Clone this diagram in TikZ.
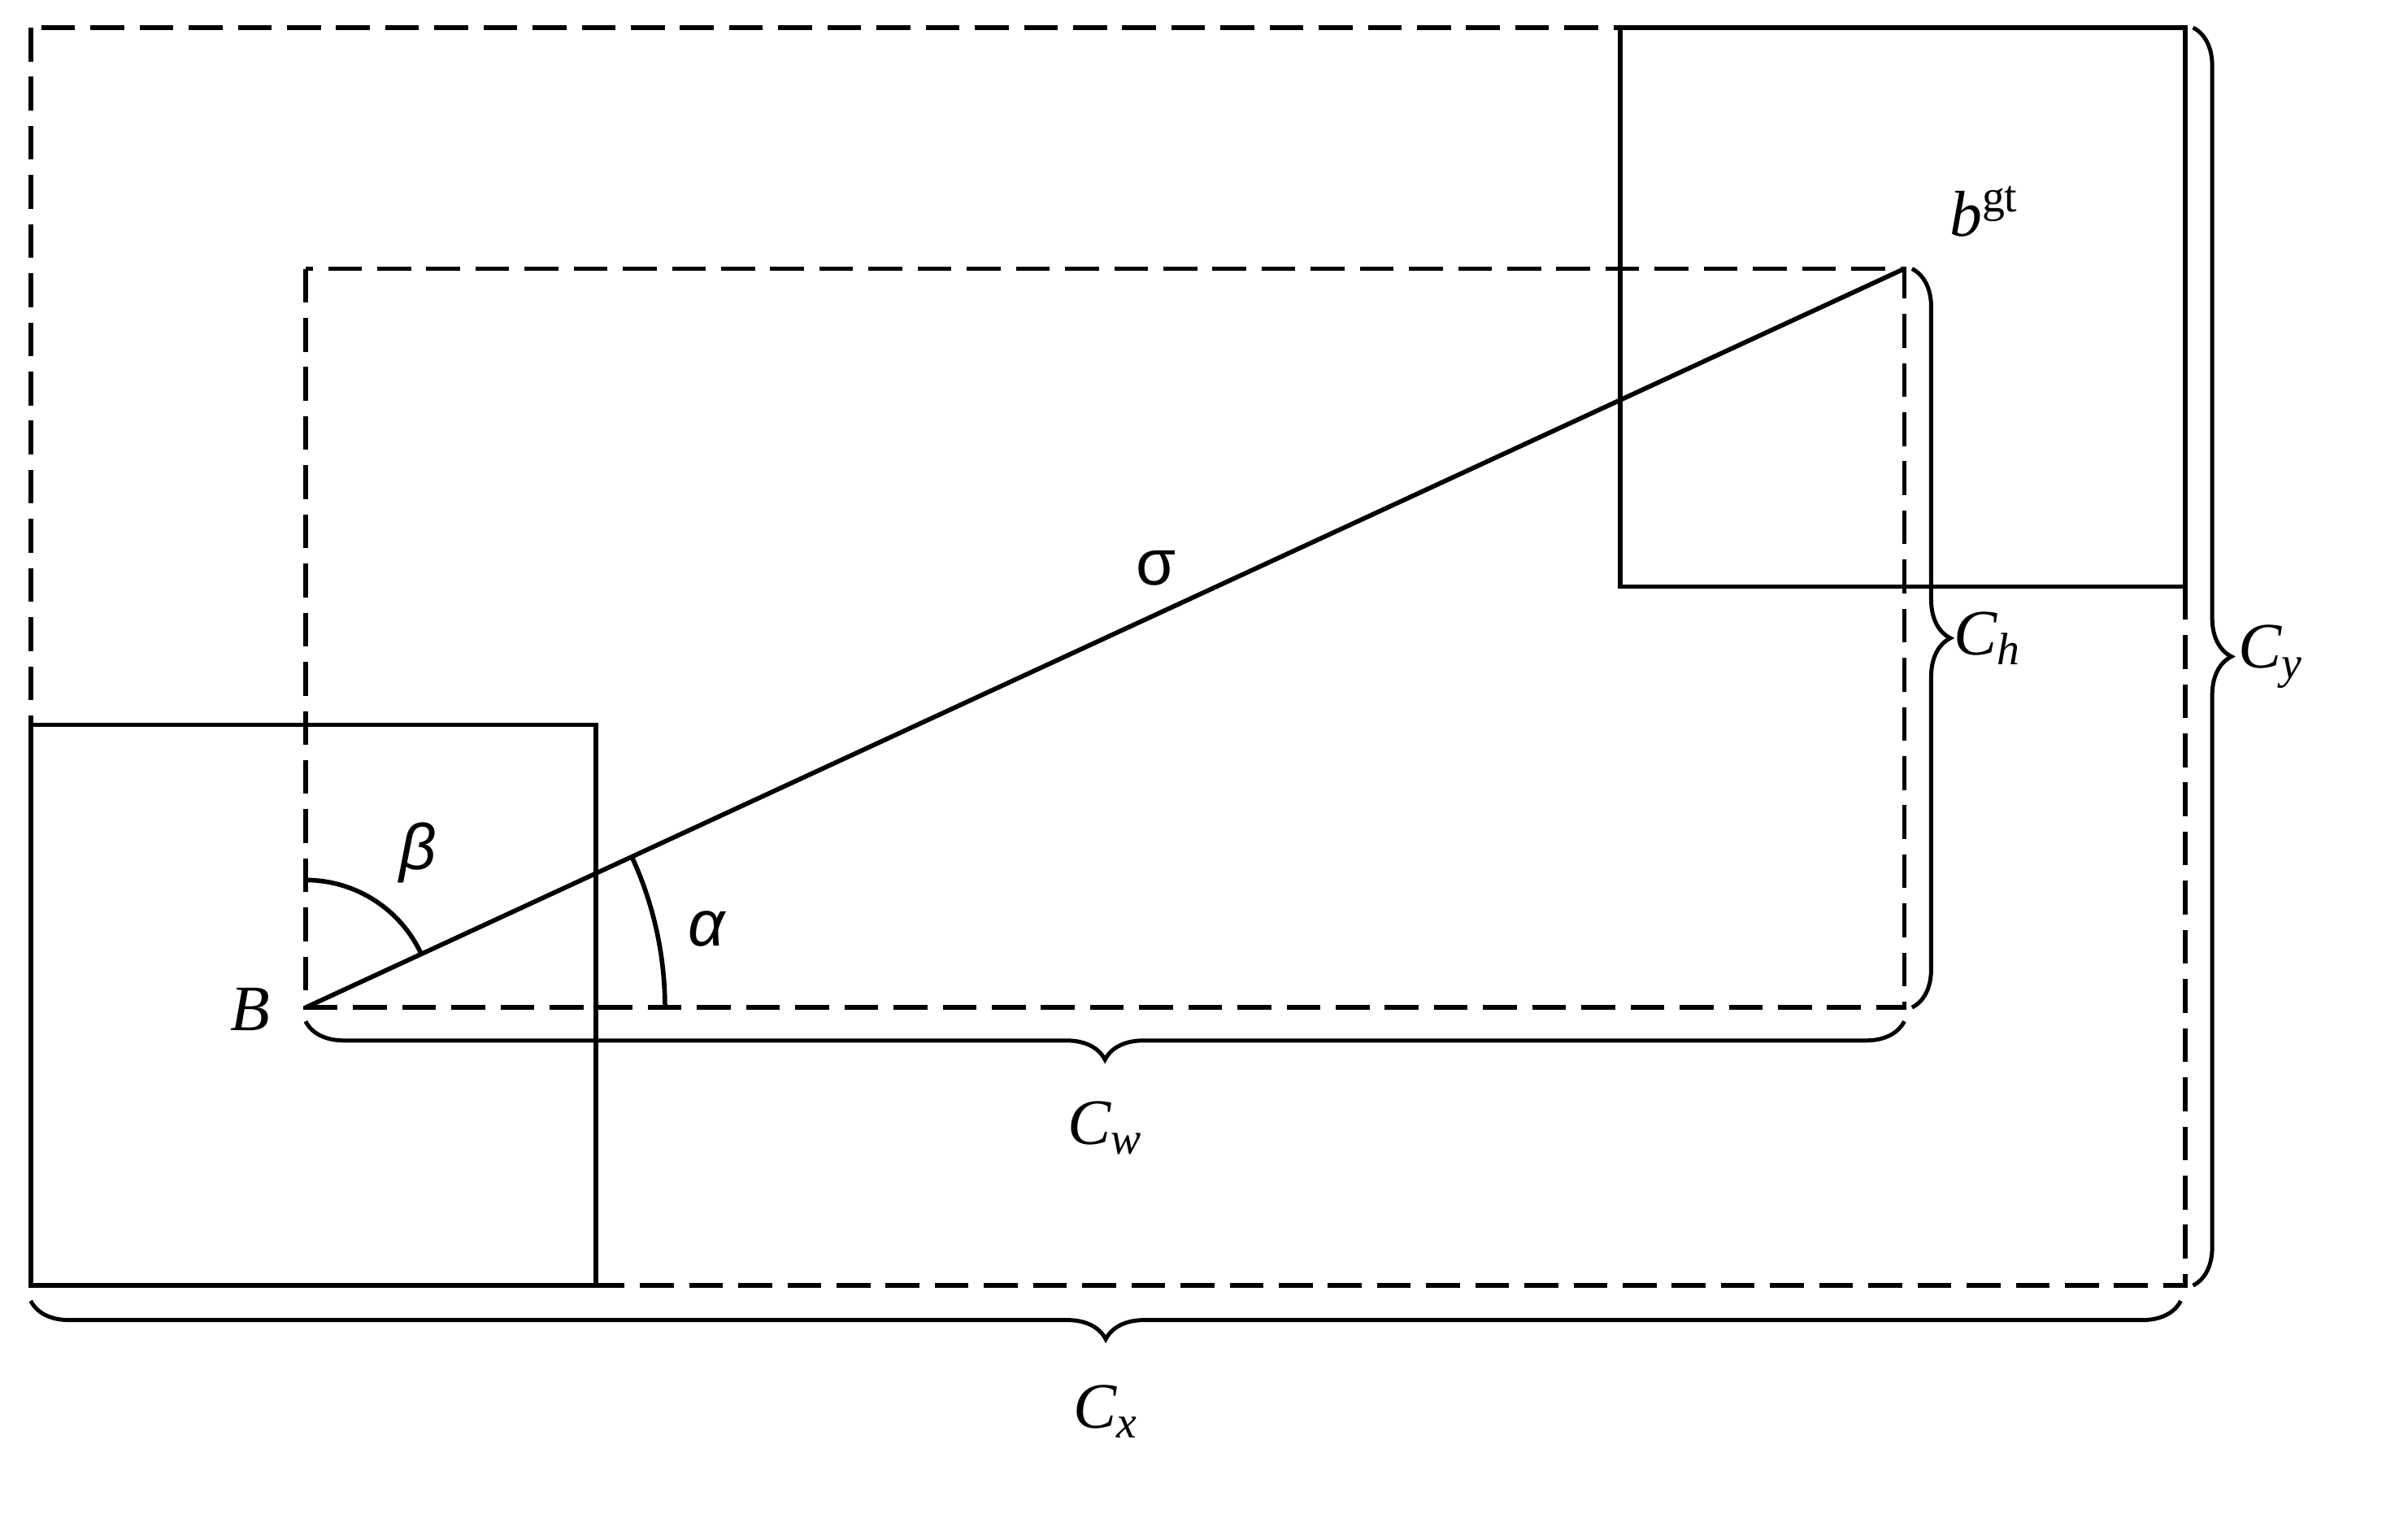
\documentclass[tikz,border=0pt]{standalone}
\usepackage{fontspec}
\setmainfont{Liberation Serif}
\newfontfamily\gsans{Liberation Sans}
\usetikzlibrary{decorations.pathreplacing}
\begin{document}
\begin{tikzpicture}[x=0.02cm,y=-0.02cm,
  ln/.style={line width=1.7pt},
  dsh/.style={line width=1.7pt,dash pattern=on 0.44cm off 0.2cm},
  br/.style={line width=1.5pt,decorate,decoration={brace,amplitude=0.5cm}},
  lab/.style={font=\fontsize{24}{28}\selectfont\itshape}]
\useasboundingbox (0,0) rectangle (1568,999);
\coordinate (O1) at (20,18); \coordinate (O2) at (1423,837);
\coordinate (I1) at (199,175); \coordinate (I2) at (1240,656);
\coordinate (B) at (199,656); \coordinate (G) at (1240,175);
\draw[dsh] (O1) rectangle (O2);
\draw[dsh] (I1) rectangle (I2);
\draw[ln] (20,472) rectangle (388,837);
\draw[ln] (1055,18) rectangle (1423,382);
\draw[ln] (B) -- (G);
\draw[ln] (433,656) arc[start angle=0,end angle=24.8,radius=11.7cm*0.4];
\draw[ln] (199,573) arc[start angle=90,end angle=24.8,radius=1.66cm];
\draw[br] (1245,175) -- node[right=0.4cm,lab]{C\textsubscript{h}} (1245,656);
\draw[br] (1428,18) -- node[right=0.45cm,lab]{C\textsubscript{y}} (1428,837);
\draw[br] (1240,665) -- node[below=0.9cm,lab]{C\textsubscript{w}} (199,665);
\draw[br] (1420,847) -- node[below=0.95cm,lab]{C\textsubscript{x}} (20,847);
\node[lab] (lB) at (163,657) {B};
\node[lab] (lb) at (1292,138) {b\textsuperscript{\upshape gt}};
\node[font=\fontsize{24}{28}\selectfont\gsans\itshape] (lbeta) at (272,555) {β};
\node[font=\fontsize{24}{28}\selectfont\gsans\itshape] (lalpha) at (460,605) {α};
\node[font=\fontsize{24}{28}\selectfont\gsans] (lsig) at (753,370) {σ};
\end{tikzpicture}
\end{document}
